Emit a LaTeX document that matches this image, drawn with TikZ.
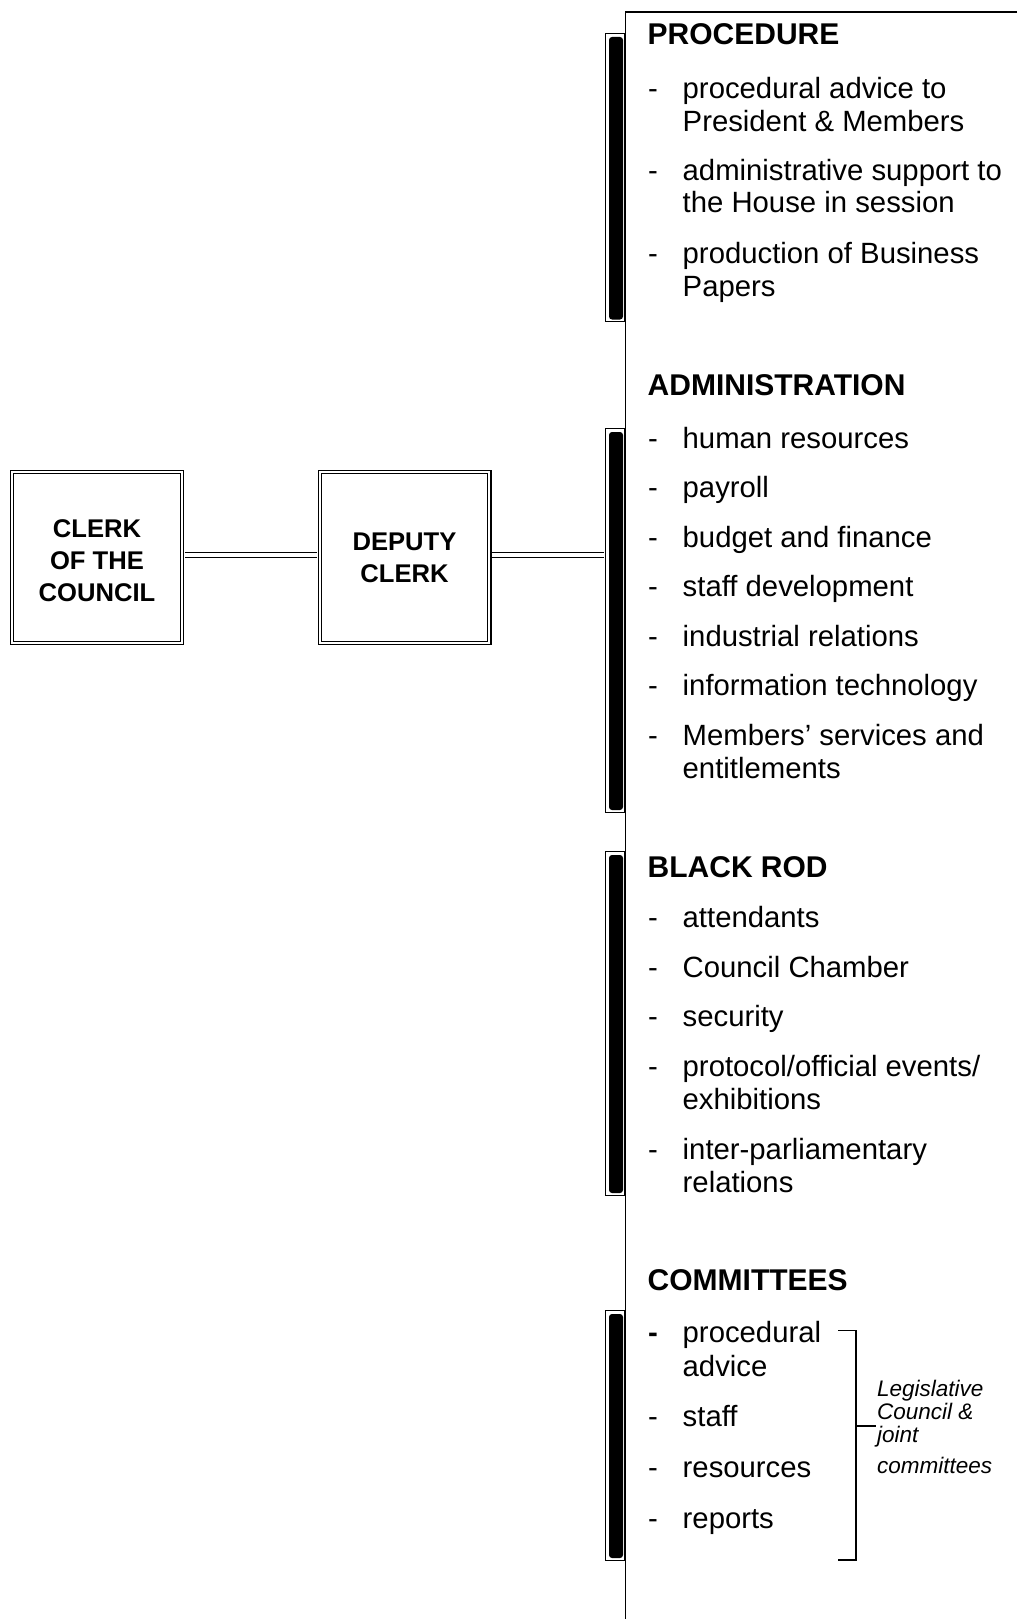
\documentclass[tikz,border=0pt]{standalone}
\usepackage{fontspec}
\setmainfont{Liberation Sans}
\begin{document}
\begin{tikzpicture}[x=1pt,y=-1pt,
  box/.style={draw, double, double distance=2.2pt, line width=1.1pt, minimum width=169.6pt, minimum height=170.6pt, inner sep=0pt, align=center, fill=white, font=\bfseries\fontsize{25.6}{32}\selectfont},
  link/.style={double, double distance=3.5pt, line width=1.1pt},
  barout/.style={draw, line width=1.1pt, minimum width=19pt, inner sep=0pt, fill=white},
  barin/.style={fill=black, rounded corners=3pt},
  hdr/.style={anchor=base west, inner sep=0pt, font=\bfseries\fontsize{30}{33}\selectfont},
  itm/.style={anchor=base west, inner sep=0pt, font=\fontsize{29.3}{33}\selectfont},
  dsh/.style={anchor=base west, inner sep=0pt, font=\fontsize{29.3}{33}\selectfont},
  note/.style={anchor=base west, inner sep=0pt, font=\itshape\fontsize{22.5}{24}\selectfont},
  frame/.style={line width=1.8pt},
  brk/.style={line width=1.3pt}]
\useasboundingbox (0,0) rectangle (1017,1619);

% boxes
\node[box] (clerk) at (97,557.5) {\rule{0pt}{24.5pt}CLERK\\OF THE\\COUNCIL};
\node[box] (deputy) at (404.5,557.5) {DEPUTY\\CLERK};

% bars
\node[barout, minimum height=288pt] (bar1) at (615,177.5) {};
\node[barout, minimum height=384pt] (bar2) at (615,620.5) {};
\node[barout, minimum height=344pt] (bar3) at (615,1023.5) {};
\node[barout, minimum height=250pt] (bar4) at (615,1435.5) {};
\fill[barin] (609,37) rectangle (623,319.5);
\fill[barin] (609,432) rectangle (623,810);
\fill[barin] (609,855) rectangle (623,1193);
\fill[barin] (609,1314) rectangle (623,1558);

% frame
\draw[frame] (1017,12) -| (625.5,1619);

% connectors
\draw[link, shorten <=2.3pt, shorten >=2.3pt] ([yshift=2.5pt]clerk.east) -- ([yshift=2.5pt]deputy.west);
\draw[link, shorten <=2.3pt, shorten >=0.5pt] ([yshift=2.5pt]deputy.east) -- ([yshift=2.5pt]deputy.east -| bar2.west);

% PROCEDURE
\node[hdr] (h1) at (647.5,44.5) {PROCEDURE};
\node[dsh] (d11) at (648,98) {-};
\node[itm] (t11a) at (682.5,98) {procedural advice to};
\node[itm] (t11b) at (682.5,131) {President \& Members};
\node[dsh] (d12) at (648,180.5) {-};
\node[itm] (t12a) at (682.5,180.5) {administrative support to};
\node[itm] (t12b) at (682.5,212.5) {the House in session};
\node[dsh] (d13) at (648,263) {-};
\node[itm] (t13a) at (682.5,263) {production of Business};
\node[itm] (t13b) at (682.5,296) {Papers};

% ADMINISTRATION
\node[hdr] (h2) at (647.5,395.5) {ADMINISTRATION};
\node[dsh] (d21) at (648,448) {-};
\node[itm] (t21) at (682.5,448) {human resources};
\node[dsh] (d22) at (648,497) {-};
\node[itm] (t22) at (682.5,497) {payroll};
\node[dsh] (d23) at (648,547) {-};
\node[itm] (t23) at (682.5,547) {budget and finance};
\node[dsh] (d24) at (648,596.5) {-};
\node[itm] (t24) at (682.5,596.5) {staff development};
\node[dsh] (d25) at (648,646) {-};
\node[itm] (t25) at (682.5,646) {industrial relations};
\node[dsh] (d26) at (648,695.5) {-};
\node[itm] (t26) at (682.5,695.5) {information technology};
\node[dsh] (d27) at (648,745.5) {-};
\node[itm] (t27a) at (682.5,745.5) {Members’ services and};
\node[itm] (t27b) at (682.5,778.5) {entitlements};

% BLACK ROD
\node[hdr] (h3) at (647.5,877.5) {BLACK ROD};
\node[dsh] (d31) at (648,927) {-};
\node[itm] (t31) at (682.5,927) {attendants};
\node[dsh] (d32) at (648,977) {-};
\node[itm] (t32) at (682.5,977) {Council Chamber};
\node[dsh] (d33) at (648,1026.5) {-};
\node[itm] (t33) at (682.5,1026.5) {security};
\node[dsh] (d34) at (648,1076) {-};
\node[itm] (t34a) at (682.5,1076) {protocol/official events/};
\node[itm] (t34b) at (682.5,1109) {exhibitions};
\node[dsh] (d35) at (648,1159) {-};
\node[itm] (t35a) at (682.5,1159) {inter-parliamentary};
\node[itm] (t35b) at (682.5,1192) {relations};

% COMMITTEES
\node[hdr] (h4) at (647.5,1290.5) {COMMITTEES};
\node[dsh, font=\bfseries\fontsize{29.3}{33}\selectfont] (d41) at (648,1342) {-};
\node[itm] (t41a) at (682.5,1342) {procedural};
\node[itm] (t41b) at (682.5,1376) {advice};
\node[dsh] (d42) at (648,1426.5) {-};
\node[itm] (t42) at (682.5,1426.5) {staff};
\node[dsh] (d43) at (648,1477) {-};
\node[itm] (t43) at (682.5,1477) {resources};
\node[dsh] (d44) at (648,1528) {-};
\node[itm] (t44) at (682.5,1528) {reports};

% bracket and note
\coordinate (btop) at (838,1330.7);
\coordinate (bbot) at (838,1560);
\coordinate (bmid) at (856,1426);
\coordinate (btick) at (876,1426);
\draw[brk] (btop) -| (bbot -| bmid) -- (bbot);
\draw[brk] (bmid) -- (btick);
\node[note] (n1) at (877,1396) {Legislative};
\node[note] (n2) at (877,1419) {Council \&};
\node[note] (n3) at (877,1442.5) {joint};
\node[note] (n4) at (877,1473) {committees};
\end{tikzpicture}
\end{document}
